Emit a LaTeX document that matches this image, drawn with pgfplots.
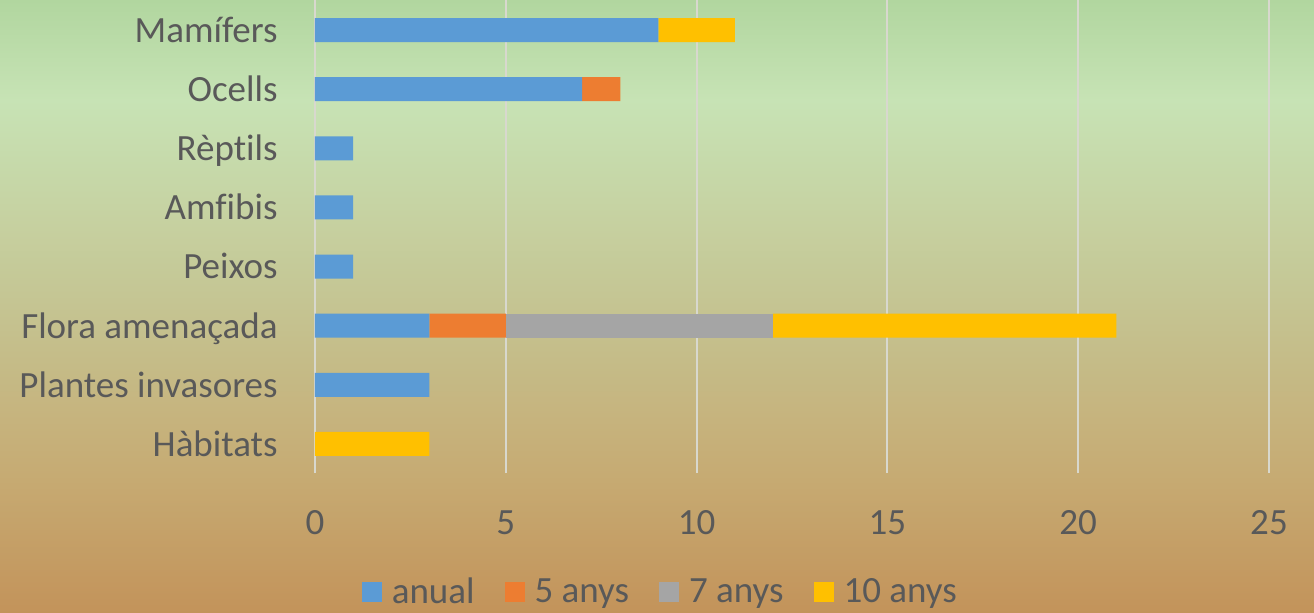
\documentclass[border=0pt]{standalone}
\usepackage{pgfplots}
\pgfplotsset{compat=1.18}
\usepackage{fontspec}
\setmainfont{Carlito}[RawFeature={-liga;-calt;-dlig;-clig}]
\definecolor{txt}{HTML}{595959}
\definecolor{cA}{HTML}{5B9BD5}
\definecolor{cB}{HTML}{ED7D31}
\definecolor{cC}{HTML}{A5A5A5}
\definecolor{cD}{HTML}{FFC000}
\definecolor{g0}{HTML}{B1D69F}
\definecolor{g1}{HTML}{C7E3B5}
\definecolor{g2}{HTML}{C5C593}
\definecolor{g3}{HTML}{C6AA72}
\definecolor{g4}{HTML}{C3935A}
\definecolor{grid}{HTML}{D8D8CE}
\begin{document}
\begin{tikzpicture}
\fill[top color=g0,bottom color=g1] (-157.5pt,186.5pt) rectangle (499.5pt,236.75pt);
\fill[top color=g1,bottom color=g2] (-157.5pt,86.5pt) rectangle (499.5pt,186.75pt);
\fill[top color=g2,bottom color=g3] (-157.5pt,-3.5pt) rectangle (499.5pt,86.75pt);
\fill[top color=g3,bottom color=g4] (-157.5pt,-69.75pt) rectangle (499.5pt,-3.25pt);
\begin{axis}[
  at={(0,0)}, anchor=south west,
  scale only axis, width=477pt, height=236.5pt,
  xbar stacked, bar width=12pt,
  xmin=0, xmax=25, ymin=-0.5, ymax=7.5,
  xtick={0,5,...,25},
  ytick={0,...,7},
  yticklabels={Hàbitats,Plantes invasores,Flora amenaçada,Peixos,Amfibis,Rèptils,Ocells,Mamífers},
  xmajorgrids, major grid style={draw=grid, line width=1pt},
  axis line style={draw=none},
  major tick length=0pt, tick style={draw=none},
  /pgf/number format/assume math mode=true,
  tick label style={font=\fontsize{18.5pt}{22pt}\selectfont, text=txt},
  xticklabel style={anchor=base, yshift=-30.75pt},
  yticklabel style={anchor=east, inner sep=0pt, xshift=-18.5pt, yshift=-3pt, text height=0.72em, text depth=0.08em},
  legend columns=4,
  legend style={draw=none, fill=none, at={(rel axis cs:0.363,-0.25)}, anchor=center,
    font=\fontsize{18.5pt}{22pt}\selectfont, text=txt,
    /tikz/every even column/.append style={column sep=13pt}},
  legend image code/.code={\fill[#1,draw=none] (0pt,-5pt) rectangle (10pt,5pt); \path (13pt,0pt);},
]
\addplot[fill=cA, draw=none] coordinates {(0,0) (3,1) (3,2) (1,3) (1,4) (1,5) (7,6) (9,7)};
\addplot[fill=cB, draw=none] coordinates {(0,0) (0,1) (2,2) (0,3) (0,4) (0,5) (1,6) (0,7)};
\addplot[fill=cC, draw=none] coordinates {(0,0) (0,1) (7,2) (0,3) (0,4) (0,5) (0,6) (0,7)};
\addplot[fill=cD, draw=none] coordinates {(3,0) (0,1) (9,2) (0,3) (0,4) (0,5) (0,6) (2,7)};
\legend{anual,5 anys,7 anys,10 anys}
\end{axis}
\pgfresetboundingbox
\useasboundingbox (-157.5pt,-69.75pt) rectangle (499.5pt,236.75pt);
\end{tikzpicture}
\end{document}
